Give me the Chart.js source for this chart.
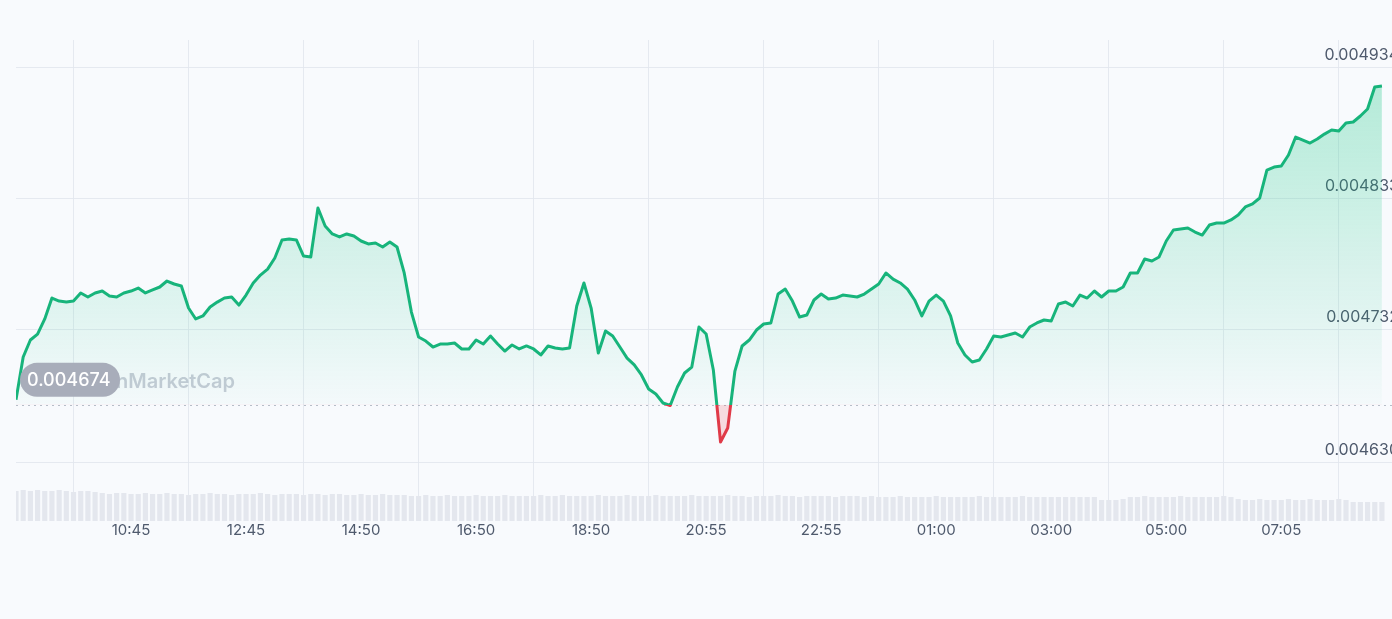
<!DOCTYPE html>
<html>
<head>
<meta charset="utf-8">
<title>Price chart</title>
<script src="https://cdn.jsdelivr.net/npm/chart.js@4.4.1/dist/chart.umd.min.js"></script>
<style>
  html, body { margin: 0; padding: 0; background: #f8fafd; }
  #wrap { width: 1392px; height: 619px; position: relative; }
</style>
</head>
<body>
<div id="wrap"><canvas id="priceChart"></canvas></div>
<script>
// 24h price, one point every ~7.5 min
const prices = [
  0.0046780, 0.0047108, 0.0047239, 0.0047285, 0.0047401, 0.0047562, 0.0047539, 0.0047531, 0.0047539, 0.0047601,
  0.0047570, 0.0047601, 0.0047616, 0.0047578, 0.0047570, 0.0047601, 0.0047616, 0.0047639, 0.0047601, 0.0047624,
  0.0047647, 0.0047693, 0.0047670, 0.0047655, 0.0047485, 0.0047401, 0.0047424, 0.0047493, 0.0047531, 0.0047562,
  0.0047570, 0.0047508, 0.0047585, 0.0047678, 0.0047739, 0.0047785, 0.0047870, 0.0048009, 0.0048016, 0.0048009,
  0.0047885, 0.0047878, 0.0048255, 0.0048116, 0.0048055, 0.0048032, 0.0048055, 0.0048039, 0.0048001, 0.0047978,
  0.0047986, 0.0047955, 0.0047993, 0.0047955, 0.0047755, 0.0047454, 0.0047262, 0.0047231, 0.0047185, 0.0047208,
  0.0047208, 0.0047216, 0.0047170, 0.0047170, 0.0047239, 0.0047208, 0.0047270, 0.0047208, 0.0047154, 0.0047201,
  0.0047170, 0.0047193, 0.0047170, 0.0047124, 0.0047193, 0.0047177, 0.0047170, 0.0047177, 0.0047501, 0.0047678,
  0.0047485, 0.0047139, 0.0047308, 0.0047270, 0.0047185, 0.0047100, 0.0047047, 0.0046970, 0.0046862, 0.0046823,
  0.0046754, 0.0046735, 0.0046877, 0.0046985, 0.0047031, 0.0047339, 0.0047285, 0.0047008, 0.0046454, 0.0046562,
  0.0047000, 0.0047193, 0.0047239, 0.0047316, 0.0047362, 0.0047370, 0.0047593, 0.0047631, 0.0047539, 0.0047416,
  0.0047431, 0.0047547, 0.0047593, 0.0047555, 0.0047562, 0.0047585, 0.0047578, 0.0047570, 0.0047593, 0.0047631,
  0.0047670, 0.0047755, 0.0047708, 0.0047678, 0.0047631, 0.0047547, 0.0047424, 0.0047539, 0.0047585, 0.0047539,
  0.0047424, 0.0047216, 0.0047124, 0.0047070, 0.0047085, 0.0047170, 0.0047270, 0.0047262, 0.0047277, 0.0047293,
  0.0047262, 0.0047339, 0.0047370, 0.0047393, 0.0047385, 0.0047516, 0.0047531, 0.0047501, 0.0047585, 0.0047562,
  0.0047616, 0.0047570, 0.0047616, 0.0047616, 0.0047647, 0.0047755, 0.0047755, 0.0047862, 0.0047847, 0.0047878,
  0.0048001, 0.0048086, 0.0048093, 0.0048101, 0.0048070, 0.0048047, 0.0048124, 0.0048139, 0.0048139, 0.0048163,
  0.0048201, 0.0048263, 0.0048286, 0.0048332, 0.0048547, 0.0048570, 0.0048578, 0.0048663, 0.0048801, 0.0048778,
  0.0048755, 0.0048786, 0.0048824, 0.0048855, 0.0048847, 0.0048909, 0.0048917, 0.0048963, 0.0049017, 0.0049186,
  0.0049194
];

// volume bars (relative units)
const volumes = [
  30, 31, 30, 31, 30, 30, 31, 30, 29, 30, 30, 29,
  28, 27, 28, 28, 27, 27, 28, 27, 27, 28, 27, 27, 26, 27, 27, 28, 27, 27, 26, 27,
  27, 27, 28, 27, 26, 27, 27, 27, 26, 27, 27, 26, 27, 27, 26, 26, 27, 26, 26, 27, 26, 26,
  26, 25, 25, 26, 25, 25, 26, 25, 25, 25, 26, 25, 25, 25, 26, 25, 25, 25, 25, 26,
  25, 25, 26, 25, 25, 25, 25, 26, 25, 25, 25, 26, 25, 25, 25, 26, 25, 25, 25, 25,
  26, 25, 25, 25, 25, 26, 25, 25, 24, 25, 25, 25, 26, 25, 25, 24, 25, 25, 25, 25,
  24, 25, 25, 25, 24, 25, 24,
  24, 24, 25, 24, 24, 24, 24, 25, 24, 24, 24, 24, 24, 25, 24, 24, 24, 24, 24, 25,
  24, 24, 24, 24, 24, 24, 24, 24, 24, 24,
  21, 21, 21, 22,
  24, 24, 25, 24, 24, 24, 24, 25, 24, 24, 24, 24, 24, 25, 24,
  22, 21, 21, 22, 21, 21, 21, 22, 21, 21, 22, 21, 21, 21, 22, 21,
  19, 19, 19, 19, 19
];

const baseline = 0.004674;
const yTicks = [0.004630, 0.004732, 0.004833, 0.004934];
const tickIdx = [16, 32, 48, 64, 80, 96, 112, 128, 144, 160, 176];
const tickLabels = ['10:45', '12:45', '14:50', '16:50', '18:50', '20:55', '22:55', '01:00', '03:00', '05:00', '07:05'];

const GREEN = '#17b47b';
const RED = '#e03a48';

function lineStroke(context) {
  const chart = context.chart;
  const area = chart.chartArea;
  if (!area) return GREEN;
  const by = chart.scales.y.getPixelForValue(baseline);
  let f = (by - area.top) / (area.bottom - area.top);
  f = Math.min(Math.max(f, 0), 1);
  const g = chart.ctx.createLinearGradient(0, area.top, 0, area.bottom);
  g.addColorStop(0, GREEN);
  g.addColorStop(f, GREEN);
  g.addColorStop(f, RED);
  g.addColorStop(1, RED);
  return g;
}

function areaFill(context) {
  const chart = context.chart;
  const area = chart.chartArea;
  if (!area) return 'rgba(22,199,132,0.15)';
  const by = chart.scales.y.getPixelForValue(baseline);
  const g = chart.ctx.createLinearGradient(0, area.top, 0, by);
  g.addColorStop(0, 'rgba(22,199,132,0.34)');
  g.addColorStop(1, 'rgba(22,199,132,0.02)');
  return g;
}

const extras = {
  id: 'extras',
  beforeDatasetsDraw(chart) {
    const ctx = chart.ctx, a = chart.chartArea;
    const by = chart.scales.y.getPixelForValue(baseline);
    ctx.save();
    // watermark
    ctx.font = '600 20px Inter';
    ctx.fillStyle = 'rgba(165,172,188,0.6)';
    ctx.textAlign = 'right';
    ctx.textBaseline = 'middle';
    ctx.fillText('CoinMarketCap', a.left + 219, by - 23);
    // dotted baseline
    ctx.strokeStyle = 'rgba(160,168,182,0.75)';
    ctx.lineWidth = 1;
    ctx.setLineDash([2, 4]);
    ctx.beginPath();
    ctx.moveTo(a.left, Math.round(by) + 0.5);
    ctx.lineTo(a.right, Math.round(by) + 0.5);
    ctx.stroke();
    ctx.restore();
  },
  afterDatasetsDraw(chart) {
    const ctx = chart.ctx, a = chart.chartArea;
    const by = chart.scales.y.getPixelForValue(baseline);
    const x = a.left + 4, y = by - 42, w = 100, h = 34;
    ctx.save();
    ctx.fillStyle = '#a8adba';
    ctx.beginPath();
    ctx.roundRect(x, y, w, h, h / 2);
    ctx.fill();
    ctx.fillStyle = '#ffffff';
    ctx.font = '500 18px Inter';
    ctx.textAlign = 'left';
    ctx.textBaseline = 'middle';
    ctx.fillText(baseline.toFixed(6), x + 7, y + h / 2 + 1);
    ctx.restore();
  }
};

Chart.defaults.font.family = 'Inter';

new Chart(document.getElementById('priceChart'), {
  type: 'line',
  data: {
    datasets: [{
      label: 'Price',
      data: prices.map((p, i) => ({ x: i, y: p })),
      borderColor: lineStroke,
      backgroundColor: areaFill,
      fill: { target: { value: baseline }, below: 'rgba(234,57,67,0.16)' },
      borderWidth: 3,
      borderJoinStyle: 'round',
      pointRadius: 0,
      tension: 0,
      order: 0
    }, {
      type: 'bar',
      label: 'Volume',
      data: volumes.map((v, i) => ({ x: i, y: v })),
      yAxisID: 'yv',
      backgroundColor: '#e4e7ee',
      barPercentage: 0.72,
      categoryPercentage: 1,
      order: 1
    }]
  },
  options: {
    responsive: true,
    maintainAspectRatio: false,
    animation: false,
    layout: { padding: { top: 40, left: 16, right: 0, bottom: 0 } },
    plugins: { legend: { display: false }, tooltip: { enabled: false } },
    scales: {
      x: {
        type: 'linear',
        min: 0,
        max: 191.4,
        offset: false,
        afterBuildTicks: s => { s.ticks = tickIdx.map(v => ({ value: v })); },
        afterFit: s => { s.height = 98; },
        ticks: {
          autoSkip: false,
          maxRotation: 0,
          padding: 0,
          color: '#4f5a6d',
          font: { size: 15 },
          callback: v => tickLabels[tickIdx.indexOf(v)]
        },
        grid: { color: 'rgba(226,231,238,0.9)', drawTicks: false },
        border: { display: false }
      },
      y: {
        position: 'right',
        min: 0.0045846,
        max: 0.0049548,
        afterBuildTicks: s => { s.ticks = yTicks.map(v => ({ value: v })); },
        afterFit: s => { s.width = 0; },
        ticks: {
          mirror: true,
          padding: 7,
          labelOffset: -12,
          color: '#4f5a6d',
          font: { size: 16 },
          callback: v => v.toFixed(6)
        },
        grid: { color: 'rgba(226,231,238,0.9)', drawTicks: false },
        border: { display: false }
      },
      yv: {
        display: false,
        min: 0,
        max: 481
      }
    }
  },
  plugins: [extras]
});
</script>
</body>
</html>
